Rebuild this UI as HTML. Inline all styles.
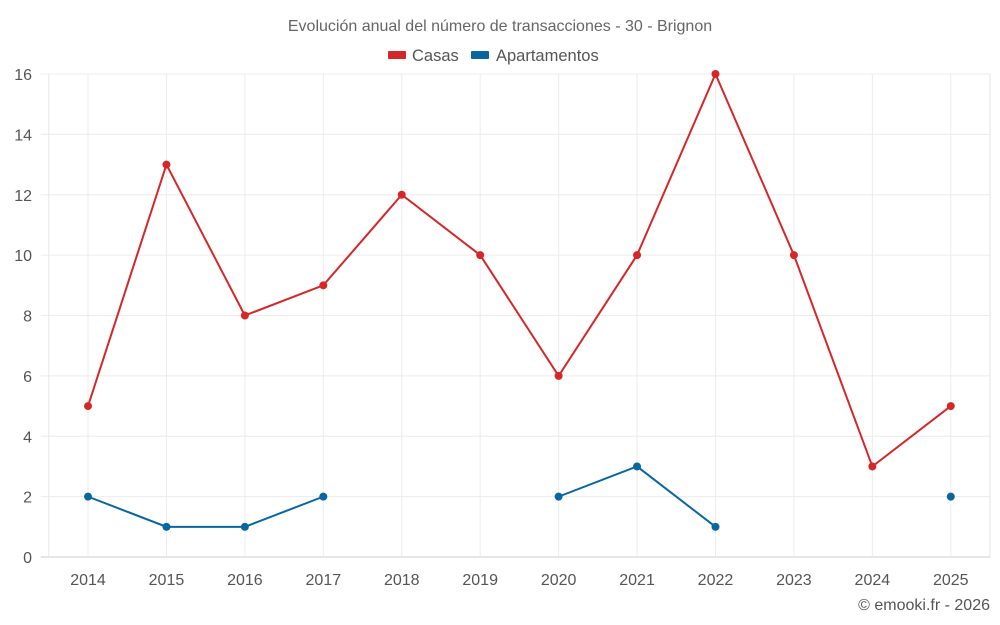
<!DOCTYPE html>
<html><head><meta charset="utf-8"><style>
body{margin:0;background:#fff;}
svg{display:block;font-family:"Liberation Sans",sans-serif;}
</style></head><body>
<svg id="chart" width="1000" height="625"></svg>
<script>
const years=["2014","2015","2016","2017","2018","2019","2020","2021","2022","2023","2024","2025"];
const casas=[5,13,8,9,12,10,6,10,16,10,3,5];
const apartamentos=[2,1,1,2,null,null,2,3,1,null,null,2];
const yTicks=[0,2,4,6,8,10,12,14,16];
const NS="http://www.w3.org/2000/svg";
const svg=document.getElementById('chart');
const L=48.8,R=990,T=74,B=557,yMax=16;
const bw=(R-L)/years.length;
const x=i=>L+bw*(i+0.5);
const y=v=>B-(v/yMax)*(B-T);
function el(t,a,p){const e=document.createElementNS(NS,t);for(const k in a)e.setAttribute(k,a[k]);(p||svg).appendChild(e);return e;}
let t=el('text',{x:500,y:31,'text-anchor':'middle','font-size':16,fill:'#666'});t.textContent='Evolución anual del número de transacciones - 30 - Brignon';

const lg=el('g',{});
el('rect',{x:388,y:51,width:18,height:8,fill:'#d62728',rx:1},lg);
t=el('text',{x:412,y:61,'font-size':16.5,fill:'#555'},lg);t.textContent='Casas';

el('rect',{x:471,y:51,width:18,height:8,fill:'#08679e',rx:1},lg);
t=el('text',{x:496,y:61,'font-size':16.5,fill:'#555'},lg);t.textContent='Apartamentos';

yTicks.forEach(v=>{
 const l=el('line',{x1:L-8,x2:R,y1:y(v),y2:y(v),stroke:v===0?'#ccc':'#ececec'});
 
 const tt=el('text',{x:32,y:y(v)+6,'text-anchor':'end','font-size':16,fill:'#555'});tt.textContent=v;
 
});
[L,R].forEach(px=>{const l=el('line',{x1:px,x2:px,y1:T,y2:B,stroke:'#e6e6e6'});
 });
years.forEach((yr,i)=>{
 const l=el('line',{x1:x(i),x2:x(i),y1:T,y2:B,stroke:'#ececec'});
 
 const tt=el('text',{x:x(i),y:B+28,'text-anchor':'middle','font-size':16,fill:'#555'});tt.textContent=yr;
 
});
function series(data,color,name){
 const g=el('g',{});
 let seg=[];
 const flush=()=>{if(seg.length>1){const p=el('polyline',{points:seg.join(' '),fill:'none',stroke:color,'stroke-width':2},g);}seg=[];};
 data.forEach((v,i)=>{if(v==null){flush();return;}seg.push(x(i)+','+y(v));});flush();
 data.forEach((v,i)=>{if(v==null)return;const c=el('circle',{cx:x(i),cy:y(v),r:4,fill:color},g);
  });
}
series(casas,'#d62728','casas');
series(apartamentos,'#08679e','apartamentos');
t=el('text',{x:990,y:610,'text-anchor':'end','font-size':16,fill:'#555'});t.textContent='© emooki.fr - 2026';

</script>
</body></html>
